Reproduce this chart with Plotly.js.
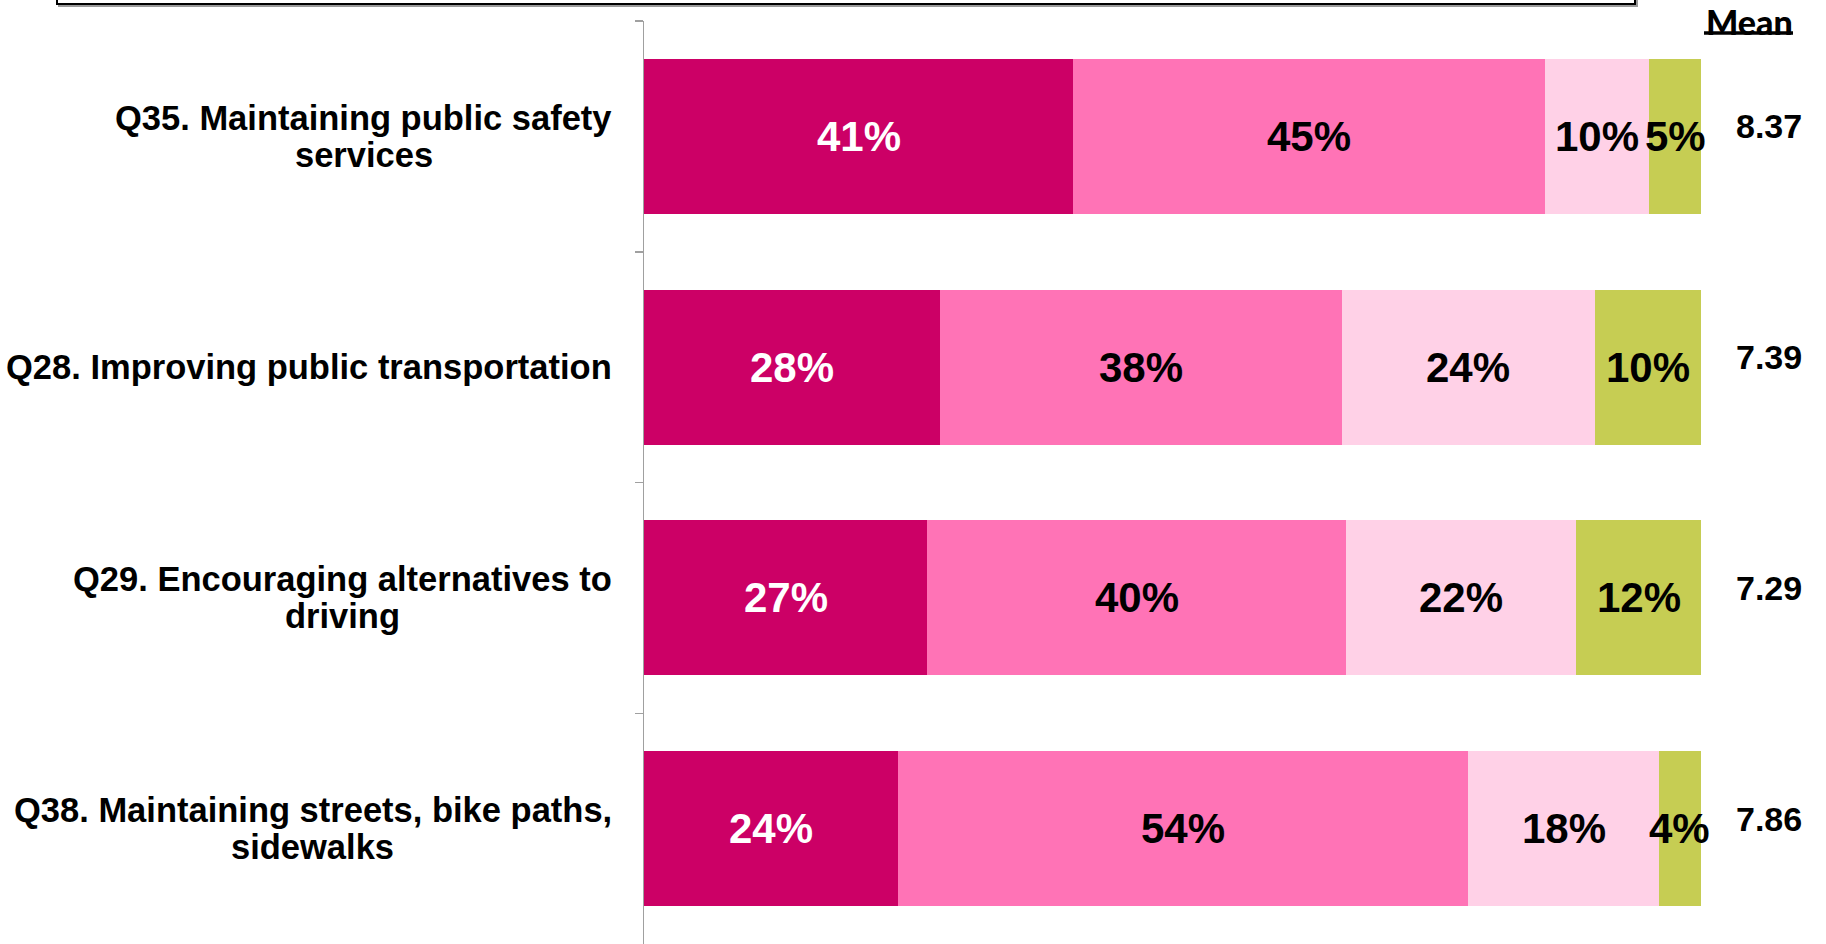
<!DOCTYPE html>
<html>
<head>
<meta charset="utf-8">
<script src="https://cdn.plot.ly/plotly-3.0.1.min.js"></script>
<style>
  html, body { margin: 0; padding: 0; background: #ffffff; }
  #chart { width: 1826px; height: 944px; }
</style>
</head>
<body>
<div id="chart"></div>
<script>
// ---- data ----
var questions = [
  "Q35. Maintaining public safety<br>services",
  "Q28. Improving public transportation",
  "Q29. Encouraging alternatives to<br>driving",
  "Q38. Maintaining streets, bike paths,<br>sidewalks"
];
var seriesNames = ["Very important", "Important", "Somewhat important", "Not important"];
var series1 = [40.6, 28.0, 26.8, 24.0];
var series2 = [44.6, 38.0, 39.6, 54.0];
var series3 = [9.9, 24.0, 21.8, 18.0];
var series4 = [4.9, 10.0, 11.8, 4.0];
var means = ["8.37", "7.39", "7.29", "7.86"];
var meanHeader = "Mean";

// ---- styling ----
var W = 1826, H = 944;
var TOP = 21;
var plotH = H - TOP;
var colors = ["#CC0066", "#FF73B6", "#FFD1E7", "#C6CD53"];
var textColors = ["#ffffff", "#000000", "#000000", "#000000"];
var FONT = "Liberation Sans, Arial, sans-serif";
var allSeries = [series1, series2, series3, series4];

var traces = allSeries.map(function (vals, i) {
  return {
    type: "bar",
    orientation: "h",
    name: seriesNames[i],
    x: vals,
    y: questions,
    marker: { color: colors[i], line: { width: 0 } },
    textposition: "none",
    hoverinfo: "skip"
  };
});

function px2py(p) { return 1 + (TOP - p) / plotH; }

var annotations = [];

// segment value labels, centred on each stacked segment (data coordinates)
questions.forEach(function (q, r) {
  var cum = 0;
  allSeries.forEach(function (vals, i) {
    var v = vals[r];
    annotations.push({
      xref: "x", yref: "y",
      x: cum + v / 2, y: q,
      xanchor: "center", yanchor: "middle",
      text: Math.round(v) + "%", showarrow: false,
      font: { family: FONT, size: 42, color: textColors[i], weight: 700 }
    });
    cum += v;
  });
});

// measure text for centred multi-line labels
var canvas = document.createElement("canvas");
var ctx = canvas.getContext("2d");
var LABEL_SIZE = 34.5;
ctx.font = "bold " + LABEL_SIZE + "px 'Liberation Sans', Arial, sans-serif";
var LABEL_RIGHT = 612;
var LINE_GAP = 37;

questions.forEach(function (q) {
  var lines = q.split("<br>");
  var maxW = 0;
  lines.forEach(function (l) { maxW = Math.max(maxW, ctx.measureText(l).width); });
  var cx = LABEL_RIGHT - maxW / 2;
  var n = lines.length;
  lines.forEach(function (l, i) {
    annotations.push({
      xref: "paper", yref: "y",
      x: cx / W, y: q,
      xanchor: "center", yanchor: "middle",
      yshift: ((n - 1) / 2 - i) * LINE_GAP,
      text: l, showarrow: false,
      font: { family: FONT, size: LABEL_SIZE, color: "#000000", weight: 700 }
    });
  });
});

means.forEach(function (m, i) {
  annotations.push({
    xref: "paper", yref: "y",
    x: 1769 / W, y: questions[i],
    xanchor: "center", yanchor: "middle",
    yshift: 10,
    text: m, showarrow: false,
    font: { family: FONT, size: 34, color: "#000000", weight: 700 }
  });
});

annotations.push({
  xref: "paper", yref: "paper",
  x: 1749 / W, y: px2py(0),
  xanchor: "center", yanchor: "top",
  borderpad: 0,
  text: meanHeader, showarrow: false,
  font: { family: "Lato, Open Sans, sans-serif", size: 34, color: "#000000", weight: 900 }
});

var shapes = [
  { type: "line", xref: "paper", yref: "paper",
    x0: 1704 / W, x1: 1793 / W, y0: px2py(33), y1: px2py(33),
    line: { color: "#000000", width: 3.5 } },
  { type: "rect", xref: "paper", yref: "paper",
    x0: 59 / W, x1: 1637 / W, y0: px2py(6), y1: px2py(-20),
    line: { color: "#9a9a9a", width: 2 }, fillcolor: "rgba(0,0,0,0)" },
  { type: "rect", xref: "paper", yref: "paper",
    x0: 57 / W, x1: 1635 / W, y0: px2py(4), y1: px2py(-20),
    line: { color: "#000000", width: 2 }, fillcolor: "#ffffff" }
];

var layout = {
  width: W, height: H,
  margin: { l: 0, r: 0, t: TOP, b: 0, pad: 0 },
  paper_bgcolor: "#ffffff",
  plot_bgcolor: "#ffffff",
  barmode: "stack",
  bargap: 0.328,
  showlegend: false,
  xaxis: {
    domain: [644 / W, 1701 / W],
    range: [0, 100],
    visible: false,
    fixedrange: true
  },
  yaxis: {
    type: "category",
    categoryorder: "array",
    categoryarray: questions,
    range: [3.5, -0.5],
    showline: true,
    linecolor: "#a0a0a0",
    linewidth: 1.5,
    ticks: "outside",
    tickson: "boundaries",
    ticklen: 8,
    tickwidth: 1.5,
    tickcolor: "#a0a0a0",
    showticklabels: false,
    showgrid: false,
    zeroline: false,
    fixedrange: true
  },
  annotations: annotations,
  shapes: shapes
};

Plotly.newPlot("chart", traces, layout, { displayModeBar: false, staticPlot: true });
</script>
</body>
</html>
